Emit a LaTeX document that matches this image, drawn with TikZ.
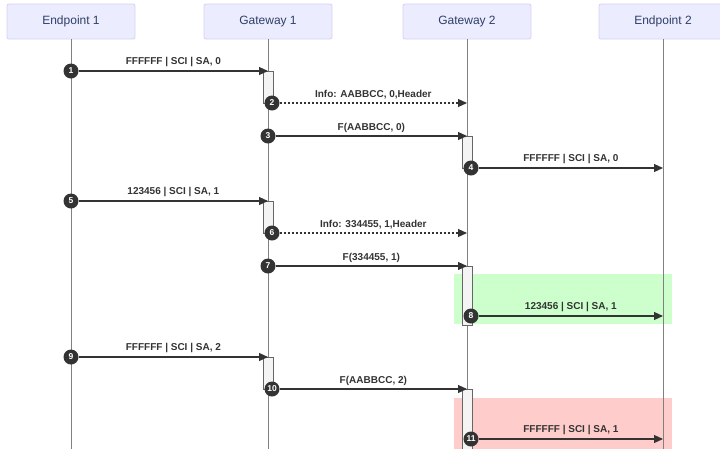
\documentclass[tikz,border=0pt]{standalone}
\usepackage{fontspec}
\setmainfont{Liberation Sans}
\usetikzlibrary{arrows.meta}
\definecolor{actorfill}{HTML}{ECECFF}
\definecolor{actorline}{HTML}{D6D0F4}
\definecolor{actortext}{HTML}{2F3E66}
\definecolor{msg}{HTML}{333333}
\definecolor{life}{HTML}{808080}
\definecolor{actfill}{HTML}{F4F4F4}
\definecolor{actline}{HTML}{666666}
\definecolor{okfill}{HTML}{CCFFCC}
\definecolor{badfill}{HTML}{FFCCCC}
\tikzstyle{actor} = [rectangle, minimum width=128pt, minimum height=35pt, rounded corners=2pt, fill=actorfill, draw=actorline, line width=0.8pt, text=actortext, font=\fontsize{12}{14}\selectfont]
\tikzstyle{num} = [circle, fill=msg, text=white, inner sep=0pt, minimum size=15pt, font=\bfseries\fontsize{8.5}{8.5}\selectfont]
\tikzstyle{lbl} = [above=0pt, text=msg, font=\bfseries\fontsize{10}{12}\selectfont]
\tikzstyle{call} = [draw=msg, line width=1.1pt, -{Triangle[length=9pt,width=8pt]}]
\tikzstyle{info} = [call, dash pattern=on 2pt off 2pt]
\tikzstyle{act} = [fill=actfill, draw=actline, line width=0.6pt]
\tikzstyle{life} = [draw=life, line width=0.9pt]

\begin{document}
\begin{tikzpicture}[x=1pt,y=-1pt]
		\clip (0,0) rectangle (720,448);
		% participants
		\node[actor](ep1) at (71,21.5){Endpoint 1};
		\node[actor](gw1) at (268,21.5){Gateway 1};
		\node[actor](gw2) at (467,21.5){Gateway 2};
		\node[actor](ep2) at (663,21.5){Endpoint 2};
		
		% highlighted regions
		\fill[okfill] (454,274) rectangle (672,324);
		\fill[badfill] (454,398) rectangle (672,470);
		
		% lifelines
		\draw[life] (ep1.south)--++(0,430);
		\draw[life] (gw1.south)--++(0,430);
		\draw[life] (gw2.south)--++(0,430);
		\draw[life] (ep2.south)--++(0,430);
		
		% activations
		\draw[act] (263,71) rectangle (273,103);
		\draw[act] (462,136) rectangle (472,168);
		\draw[act] (263,201) rectangle (273,233);
		\draw[act] (462,266) rectangle (472,325);
		\draw[act] (263,357) rectangle (273,389);
		\draw[act] (462,389) rectangle (472,470);
		
		% message ends
		\coordinate(t1) at (268,71);
		\coordinate(t2) at (467,103);
		\coordinate(t3) at (467,136);
		\coordinate(t4) at (663,168);
		\coordinate(t5) at (268,201);
		\coordinate(t6) at (467,233);
		\coordinate(t7) at (467,266);
		\coordinate(t8) at (663,316);
		\coordinate(t9) at (268,357);
		\coordinate(t10) at (467,389);
		\coordinate(t11) at (663,439);
		
		% message numbers
		\node[num](n1) at (71,71){1};
		\node[num](n2) at (272,103){2};
		\node[num](n3) at (268,136){3};
		\node[num](n4) at (471,168){4};
		\node[num](n5) at (71,201){5};
		\node[num](n6) at (272,233){6};
		\node[num](n7) at (268,266){7};
		\node[num](n8) at (471,316){8};
		\node[num](n9) at (71,357){9};
		\node[num](n10) at (272,389){10};
		\node[num](n11) at (471,439){11};
		
		\draw[call] (n1)--node[lbl]{FFFFFF | SCI | SA, 0}(t1);
		\draw[info] (n2)--node[lbl]{Info: AABBCC, 0,Header}(t2);
		\draw[call] (n3)--node[lbl]{F(AABBCC, 0)}(t3);
		\draw[call] (n4)--node[lbl]{FFFFFF | SCI | SA, 0}(t4);
		\draw[call] (n5)--node[lbl]{123456 | SCI | SA, 1}(t5);
		\draw[info] (n6)--node[lbl]{Info: 334455, 1,Header}(t6);
		\draw[call] (n7)--node[lbl]{F(334455, 1)}(t7);
		\draw[call] (n8)--node[lbl]{123456 | SCI | SA, 1}(t8);
		\draw[call] (n9)--node[lbl]{FFFFFF | SCI | SA, 2}(t9);
		\draw[call] (n10)--node[lbl]{F(AABBCC, 2)}(t10);
		\draw[call] (n11)--node[lbl]{FFFFFF | SCI | SA, 1}(t11);
		\end{tikzpicture}
\end{document}
